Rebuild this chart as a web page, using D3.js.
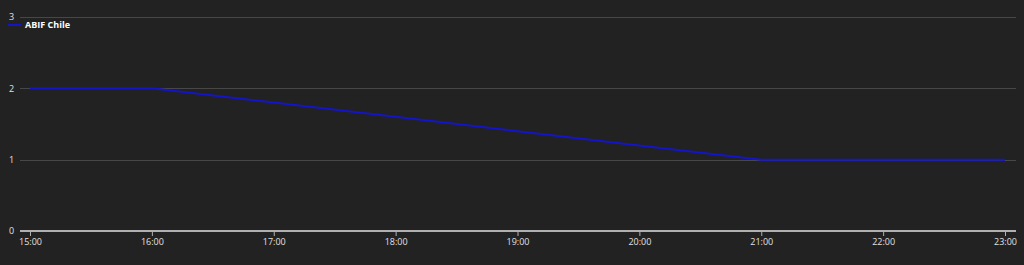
<!DOCTYPE html>
<html>
<head>
<meta charset="utf-8">
<script src="https://cdn.jsdelivr.net/npm/d3@7"></script>
<style>
  body { margin: 0; background: #222222; }
  svg { display: block; }
  text { font-family: "Open Sans", "DejaVu Sans", sans-serif; }
</style>
</head>
<body>
<svg id="chart"></svg>
<script>
const hours = ["15:00", "16:00", "17:00", "18:00", "19:00", "20:00", "21:00", "22:00", "23:00"];
const seriesName = "ABIF Chile";
const values = [2, 2, 1.8, 1.6, 1.4, 1.2, 1, 1, 1];
const yTicks = [0, 1, 2, 3];

const width = 1024, height = 265;
const svg = d3.select("#chart").attr("width", width).attr("height", height);

svg.append("rect").attr("width", width).attr("height", height).attr("fill", "#222222");

let plotLeft = 20, plotRight = 1016;
let x = d3.scalePoint().domain(hours).range([30, 1005]);
let y = d3.scaleLinear().domain([0, 3]).range([231, 17]);

// gridlines + y labels
let yAxis = svg.append("g")
    .attr("transform", `translate(${plotLeft},0)`)
    .call(d3.axisLeft(y).tickValues(yTicks).tickSize(0).tickPadding(10).tickFormat(d3.format("d")));
yAxis.select(".domain").remove();
yAxis.selectAll("text")
    .attr("fill", "#e0e0e0")
    .attr("font-size", 9)
    .attr("x", -11)
    .attr("text-anchor", "start");

svg.append("g").selectAll("line")
    .data(yTicks.filter(d => d > 0))
    .join("line")
    .attr("x1", plotLeft).attr("x2", plotRight)
    .attr("y1", d => Math.round(y(d)) + 0.5).attr("y2", d => Math.round(y(d)) + 0.5)
    .attr("stroke", "#474747").attr("stroke-width", 1);

// x axis
let xAxis = svg.append("g")
    .attr("transform", `translate(0,${y(0)})`)
    .call(d3.axisBottom(x).tickSize(5).tickPadding(3));
xAxis.select(".domain").remove();
xAxis.append("line")
    .attr("x1", plotLeft).attr("x2", plotRight)
    .attr("y1", 0).attr("y2", 0)
    .attr("stroke", "#b0b0b0").attr("stroke-width", 2);
xAxis.selectAll(".tick line").attr("stroke", "#b0b0b0");
xAxis.selectAll("text").attr("fill", "#e0e0e0").attr("font-size", 9);

// series line
let line = d3.line()
    .x((d, i) => x(hours[i]))
    .y(d => y(d));

svg.append("path")
    .datum(values)
    .attr("d", line)
    .attr("fill", "none")
    .attr("stroke", "#1414c8")
    .attr("stroke-width", 2);

// legend
let legend = svg.append("g").attr("transform", "translate(8,25)");
legend.append("line")
    .attr("x1", 0).attr("x2", 13).attr("y1", 0).attr("y2", 0)
    .attr("stroke", "#1414c8").attr("stroke-width", 2);
legend.append("text")
    .attr("x", 17).attr("y", 3)
    .attr("fill", "#ffffff")
    .attr("font-size", 9)
    .attr("font-weight", "bold")
    .text(seriesName);
</script>
</body>
</html>
